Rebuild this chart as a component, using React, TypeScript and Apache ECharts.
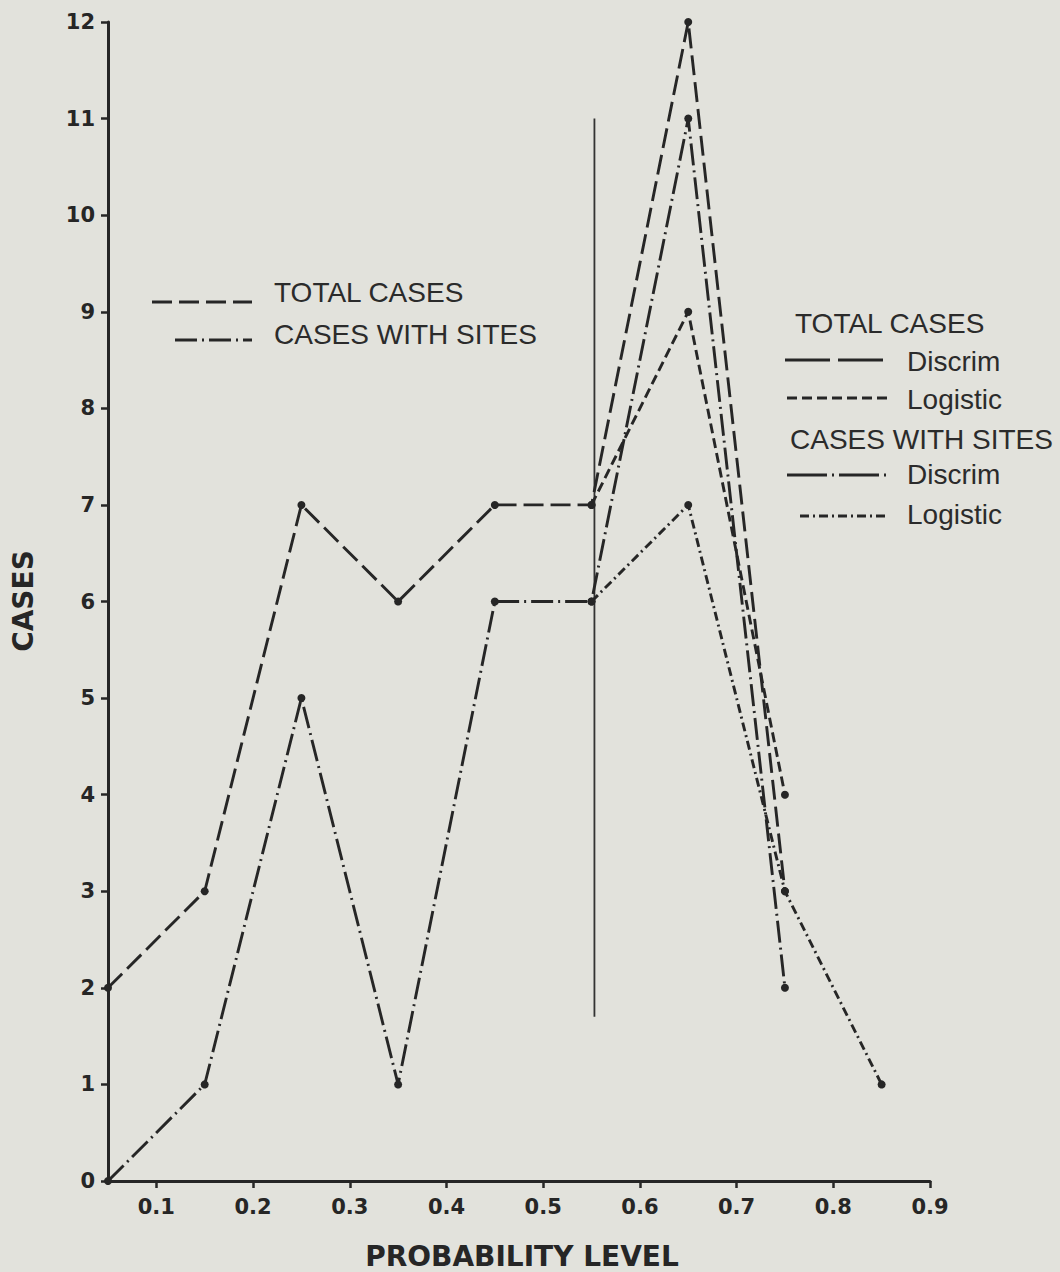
import React, { useEffect, useRef } from "react";
import * as echarts from "echarts";

// ---- Data ----
const probLevels = [0.05, 0.15, 0.25, 0.35, 0.45, 0.55, 0.65, 0.75, 0.85];
const totalDiscrim = [2, 3, 7, 6, 7, 7, 12, 3];
const sitesDiscrim = [0, 1, 5, 1, 6, 6, 11, 2];
const logisticLevels = [0.55, 0.65, 0.75, 0.85];
const totalLogistic = [7, 9, 4];
const sitesLogistic = [6, 7, 3, 1];
const markerX = 0.553;
const markerRange = [1.7, 11];
const xTicks = [0.1, 0.2, 0.3, 0.4, 0.5, 0.6, 0.7, 0.8, 0.9];
const xMin = 0.05;
const xMax = 0.9;
const yMax = 12;

const INK = "#262626";
const BG = "#e2e2dc";
const DASH_LONG = [20, 7];
const DASH_SHORT = [10, 5];
const DASH_DOT = [22, 5, 2, 5];
const DASH_DOT_SHORT = [9, 4, 2, 4];

function pairs(xs: number[], ys: number[]) {
  return ys.map((y, i) => [xs[i], y]);
}

function lineSeries(name: string, data: number[][], dash: number[]) {
  return {
    name,
    type: "line",
    data,
    symbol: "circle",
    symbolSize: 8,
    itemStyle: { color: INK },
    lineStyle: { color: INK, width: 2.9, type: dash },
    z: 3,
  };
}

export default function App() {
  const ref = useRef<HTMLDivElement>(null);
  useEffect(() => {
    document.body.style.margin = "0";
    document.body.style.background = BG;
    const chart = echarts.init(ref.current!, null, { renderer: "svg" });
    const legendFont = { fontFamily: "Liberation Sans", fontSize: 28, fill: "#2b2b2b" };
    const legLine = (x1: number, x2: number, y: number, dash: number[]) => ({
      type: "line",
      shape: { x1, y1: y, x2, y2: y },
      style: { stroke: INK, lineWidth: 2.8, lineDash: dash },
    });
    const legText = (x: number, y: number, text: string) => ({
      type: "text",
      x,
      y,
      style: { ...legendFont, text, verticalAlign: "middle", align: "left" },
    });
    chart.setOption({
      animation: false,
      backgroundColor: BG,
      grid: { left: 108, right: 130, top: 22, bottom: 91 },
      xAxis: {
        type: "value",
        min: xMin,
        max: xMax,
        axisLine: { lineStyle: { color: INK, width: 3 } },
        axisTick: { show: true, length: 7, lineStyle: { color: INK, width: 2.5 }, customValues: xTicks },
        axisLabel: {
          customValues: xTicks,
          formatter: (v: number) => v.toFixed(1),
          fontFamily: "DejaVu Sans",
          fontWeight: "bold",
          fontSize: 21,
          color: INK,
          margin: 15,
        },
        splitLine: { show: false },
      },
      yAxis: {
        type: "value",
        min: 0,
        max: yMax,
        interval: 1,
        axisLine: { show: true, lineStyle: { color: INK, width: 3 } },
        axisTick: { show: true, length: 7, lineStyle: { color: INK, width: 2.5 } },
        axisLabel: {
          fontFamily: "DejaVu Sans",
          fontWeight: "bold",
          fontSize: 21,
          color: INK,
          margin: 13,
        },
        splitLine: { show: false },
      },
      series: [
        lineSeries("TOTAL CASES Discrim", pairs(probLevels, totalDiscrim), DASH_LONG),
        lineSeries("CASES WITH SITES Discrim", pairs(probLevels, sitesDiscrim), DASH_DOT),
        lineSeries("TOTAL CASES Logistic", pairs(logisticLevels, totalLogistic), DASH_SHORT),
        lineSeries("CASES WITH SITES Logistic", pairs(logisticLevels, sitesLogistic), DASH_DOT_SHORT),
        {
          name: "marker",
          type: "line",
          data: markerRange.map((v) => [markerX, v]),
          showSymbol: false,
          lineStyle: { color: "#333", width: 1.8 },
          z: 2,
        },
      ],
      graphic: [
        {
          type: "text",
          x: 23,
          y: 601,
          rotation: Math.PI / 2,
          style: {
            text: "CASES",
            fontFamily: "DejaVu Sans",
            fontWeight: "bold",
            fontSize: 28,
            fill: INK,
            align: "center",
            verticalAlign: "middle",
          },
        },
        {
          type: "text",
          x: 522,
          y: 1256,
          style: {
            text: "PROBABILITY LEVEL",
            fontFamily: "DejaVu Sans",
            fontWeight: "bold",
            fontSize: 28,
            fill: INK,
            align: "center",
            verticalAlign: "middle",
          },
        },
        // left legend
        legLine(152, 252, 302, DASH_LONG),
        legText(274, 292, "TOTAL CASES"),
        legLine(175, 252, 340, DASH_DOT),
        legText(274, 334, "CASES WITH SITES"),
        // right legend
        legText(795, 323, "TOTAL CASES"),
        legLine(785, 888, 360, [45, 8]),
        legText(907, 361, "Discrim"),
        legLine(787, 888, 398, DASH_SHORT),
        legText(907, 399, "Logistic"),
        legText(790, 439, "CASES WITH SITES"),
        legLine(787, 888, 475, [40, 5, 2, 5]),
        legText(907, 474, "Discrim"),
        legLine(800, 888, 516, DASH_DOT_SHORT),
        legText(907, 514, "Logistic"),
      ],
    });
    return () => chart.dispose();
  }, []);
  return <div ref={ref} style={{ width: 1060, height: 1272 }} />;
}
